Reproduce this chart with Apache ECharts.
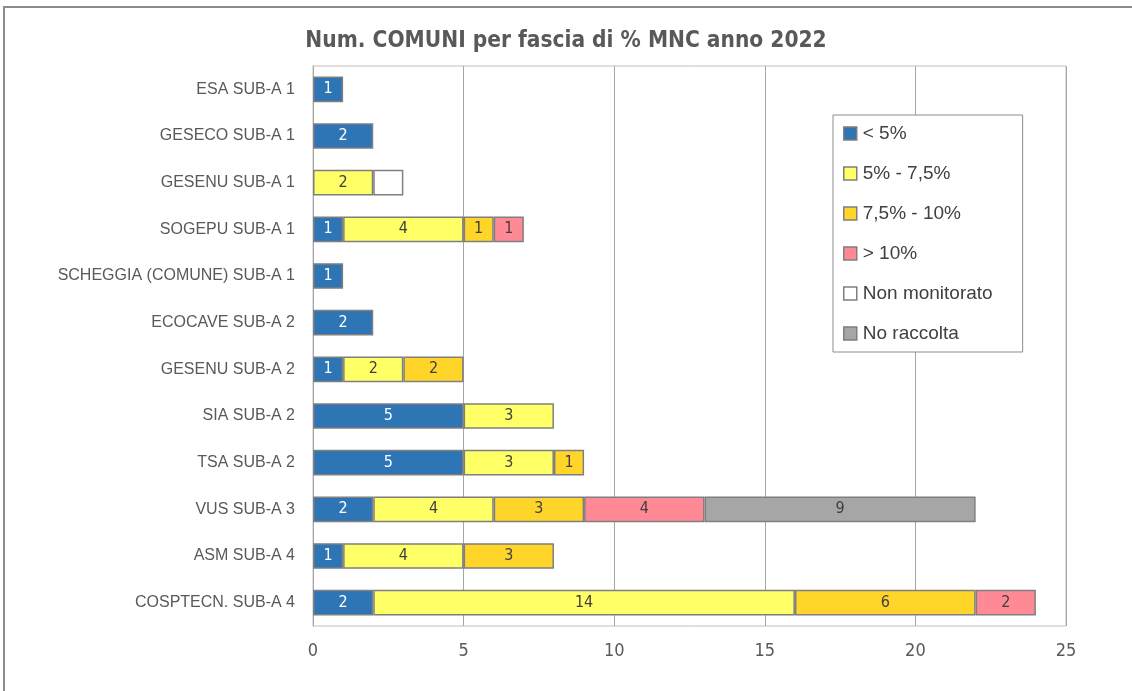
<!DOCTYPE html>
<html><head><meta charset="utf-8">
<script src="https://cdn.jsdelivr.net/npm/echarts@6/dist/echarts.min.js"></script>
<style>html,body{margin:0;padding:0;background:#fff}#c{width:1132px;height:691px}</style>
</head><body><div id="c"></div>
<script>
const categories = ['ESA SUB-A 1','GESECO SUB-A 1','GESENU SUB-A 1','SOGEPU SUB-A 1','SCHEGGIA (COMUNE) SUB-A 1','ECOCAVE SUB-A 2','GESENU SUB-A 2','SIA SUB-A 2','TSA SUB-A 2','VUS SUB-A 3','ASM SUB-A 4','COSPTECN. SUB-A 4'];
const seriesNames = ['< 5%','5% - 7,5%','7,5% - 10%','> 10%','Non monitorato','No raccolta'];
const lt5      = [1, 2, null, 1, 1, 2, 1, 5, 5, 2, 1, 2];
const s5to75   = [null, null, 2, 4, null, null, 2, 3, 3, 4, 4, 14];
const s75to10  = [null, null, null, 1, null, null, 2, null, 1, 3, 3, 6];
const gt10     = [null, null, null, 1, null, null, null, null, null, 4, null, 2];
const nonMon   = [null, null, 1, null, null, null, null, null, null, null, null, null];
const noRacc   = [null, null, null, null, null, null, null, null, null, 9, null, null];
const xTicks = [0, 5, 10, 15, 20, 25];

const NARROW = "'DejaVu Sans Condensed','Liberation Sans',sans-serif";
const WIDE = "'Liberation Sans','DejaVu Sans',sans-serif";
const colors = ['#2E75B6','#FFFF66','#FFD52A','#FF8A96','#FFFFFF','#A6A6A6'];
const labelColors = ['#FFFFFF','#404040','#404040','#404040','#404040','#404040'];
const datas = [lt5, s5to75, s75to10, gt10, nonMon, noRacc];

const chart = echarts.init(document.getElementById('c'));
chart.setOption({
  backgroundColor: '#fff',
  animation: false,
  graphic: [{type:'rect', shape:{x:4,y:7,width:1140,height:700}, style:{fill:'none', stroke:'#8C8C8C', lineWidth:2}}],
  title: {text:'Num. COMUNI per fascia di % MNC anno 2022', left:'center', top:25,
    textStyle:{fontFamily:NARROW, fontSize:22.5, fontWeight:'bold', color:'#595959'}},
  legend: {
    orient:'vertical', left:833, top:115,
    padding:[9,30,9,10], itemGap:21, itemWidth:13, itemHeight:13, icon:'rect',
    borderColor:'#8C8C8C', borderWidth:1, backgroundColor:'#fff',
    textStyle:{fontFamily:WIDE, fontSize:19, color:'#404040', padding:[0,0,0,1]},
    data: seriesNames.map(n=>({name:n, itemStyle:{borderColor:'#7F7F7F', borderWidth:1.5}}))
  },
  grid: {left:313, right:66, top:66, bottom:65, show:true, borderColor:'#BFBFBF', borderWidth:1},
  xAxis: {type:'value', min:0, max:25, interval:5,
    axisLine:{show:false}, axisTick:{show:false},
    splitLine:{lineStyle:{color:'#A6A6A6', width:1}},
    axisLabel:{fontFamily:NARROW, fontSize:18, color:'#595959', margin:16,
      formatter:v=> xTicks.includes(v) ? String(v) : ''}},
  yAxis: {type:'category', data:categories, inverse:true,
    axisLine:{show:true, lineStyle:{color:'#A6A6A6'}}, axisTick:{show:false},
    axisLabel:{fontFamily:WIDE, fontSize:16, color:'#595959', margin:18}},
  series: datas.map((d,i)=>({
    name: seriesNames[i], type:'bar', stack:'tot', data:d,
    barCategoryGap:'45%',
    itemStyle:{color:colors[i], borderColor:'#7F7F7F', borderWidth:1.5},
    label:{show: i!==4, position:'inside', fontFamily:NARROW, fontSize:16, color:labelColors[i]}
  }))
});
</script></body></html>
